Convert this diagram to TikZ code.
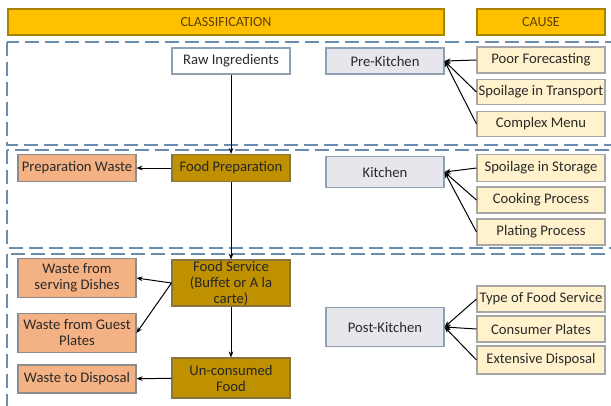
\documentclass[tikz,border=0pt]{standalone}
\usepackage{fontspec}
\setmainfont{Carlito}
\usetikzlibrary{arrows.meta}

\definecolor{hdrgold}{HTML}{FFC000}
\definecolor{hdredge}{HTML}{A88300}
\definecolor{hdrtxt}{HTML}{5E3F00}
\definecolor{causefill}{HTML}{FFF2CC}
\definecolor{causeedge}{HTML}{A6A6A6}
\definecolor{stagefill}{HTML}{E6E6EC}
\definecolor{stageedge}{HTML}{8FA0B4}
\definecolor{wastefill}{HTML}{F4B183}
\definecolor{wasteedge}{HTML}{8C8C8C}
\definecolor{flowfill}{HTML}{BF9000}
\definecolor{flowedge}{HTML}{8A7440}
\definecolor{zonecol}{HTML}{6A8CAF}
\definecolor{txt}{HTML}{2A2A2A}

\begin{document}
\begin{tikzpicture}[x=0.75pt,y=-0.75pt,
    box/.style={draw,line width=0.8pt,inner sep=1pt,align=center,
        font=\fontsize{11}{12}\selectfont,text=txt},
    hdr/.style={box,fill=hdrgold,draw=hdredge,minimum height=19.5pt,
        font=\fontsize{10.5}{12}\selectfont,text=hdrtxt},
    causebox/.style={box,fill=causefill,draw=causeedge,minimum width=96pt},
    stagebox/.style={box,fill=stagefill,draw=stageedge,minimum width=88.5pt},
    wastebox/.style={box,fill=wastefill,draw=wasteedge,minimum width=88.5pt},
    flowbox/.style={box,fill=flowfill,draw=flowedge,minimum width=88.5pt,text=black!85},
    zone/.style={draw=zonecol,line width=1.5pt,dash pattern=on 10.5pt off 4.5pt},
    link/.style={-{Stealth[length=4.5pt,width=3.5pt]},line width=0.75pt}
]
    \useasboundingbox (0,0) rectangle (611,405);

    % dashed zones
    \begin{scope}
        \clip (0,0) rectangle (611,405);
        \draw[zone] (7,42) rectangle (640,145);
        \draw[zone] (7,150) rectangle (640,248);
        \draw[zone] (7,254) rectangle (640,440);
    \end{scope}

    % headers
    \node[hdr,minimum width=327pt] (classhdr) at (226,22) {CLASSIFICATION};
    \node[hdr,minimum width=96pt] (causehdr) at (541,22) {CAUSE};

    % pre-kitchen
    \node[box,fill=white,draw=stageedge,minimum width=88.5pt,minimum height=19.5pt] (raw) at (231,61) {Raw Ingredients};
    \node[stagebox,minimum height=19.5pt] (prekitchen) at (385,61) {Pre-Kitchen};
    \node[causebox,minimum height=19.5pt] (forecast) at (541,60) {Poor Forecasting};
    \node[causebox,minimum height=19pt] (transport) at (541,92) {Spoilage in Transport};
    \node[causebox,minimum height=19pt] (menu) at (541,124) {Complex Menu};

    % kitchen
    \node[wastebox,minimum height=20.25pt] (prepwaste) at (77,168) {Preparation Waste};
    \node[flowbox,minimum height=20.25pt] (prep) at (231,168) {Food Preparation};
    \node[stagebox,minimum height=23.25pt] (kitchen) at (385,172) {Kitchen};
    \node[causebox,minimum height=20.25pt] (storage) at (541,168) {Spoilage in Storage};
    \node[causebox,minimum height=19.5pt] (cooking) at (541,200) {Cooking Process};
    \node[causebox,minimum height=19.5pt] (plating) at (541,232) {Plating Process};

    % post-kitchen
    \node[wastebox,minimum height=29.25pt] (serving) at (77,278) {Waste from\\serving Dishes};
    \node[flowbox,minimum height=34.5pt,inner sep=0pt] (service) at (231,283) {Food Service\\(Buffet or A la\\carte)};
    \node[wastebox,minimum height=29.25pt] (guest) at (77,333) {Waste from Guest\\Plates};
    \node[flowbox,minimum height=30pt] (unconsumed) at (231,378) {Un-consumed\\Food};
    \node[wastebox,minimum height=21pt] (disposal) at (77,379) {Waste to Disposal};
    \node[stagebox,minimum height=29.25pt] (postkitchen) at (385,327) {Post-Kitchen};
    \node[causebox,minimum height=19.5pt] (servtype) at (541,299) {Type of Food Service};
    \node[causebox,minimum height=19.5pt] (plates) at (541,329) {Consumer Plates};
    \node[causebox,minimum height=21pt] (extensive) at (541,360) {Extensive Disposal};

    % flow
    \draw[link] (raw) -- (prep);
    \draw[link] (prep) -- (prepwaste);
    \draw[link] (prep) -- (service);
    \draw[link] (service.west) -- (serving.east);
    \draw[link] (service.west) -- (guest.east);
    \draw[link] (service) -- (unconsumed);
    \draw[link] (unconsumed) -- (disposal);

    % causes
    \foreach \c in {forecast,transport,menu}
        \draw[link] (\c.west) -- (prekitchen.east);
    \foreach \c in {storage,cooking,plating}
        \draw[link] (\c.west) -- (kitchen.east);
    \foreach \c in {servtype,plates,extensive}
        \draw[link] (\c.west) -- (postkitchen.east);
\end{tikzpicture}
\end{document}
